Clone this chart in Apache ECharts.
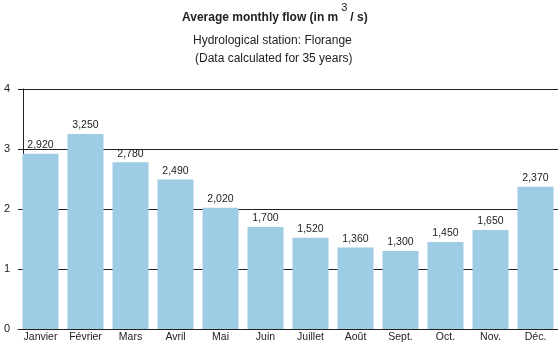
<!DOCTYPE html>
<html>
<head>
<meta charset="utf-8">
<script src="https://cdn.jsdelivr.net/npm/echarts@6/dist/echarts.min.js"></script>
<style>html,body{margin:0;padding:0;background:#fff;}#c{width:558px;height:346px;}</style>
</head>
<body>
<div id="c"></div>
<script>
const months = ['Janvier','Février','Mars','Avril','Mai','Juin','Juillet','Août','Sept.','Oct.','Nov.','Déc.'];
const flows = [2.92, 3.25, 2.78, 2.49, 2.02, 1.70, 1.52, 1.36, 1.30, 1.45, 1.65, 2.37];
const titleText = 'Average monthly flow (in m';
const subtitle1 = 'Hydrological station: Florange';
const subtitle2 = '(Data calculated for 35 years)';

const chart = echarts.init(document.getElementById('c'), null, {renderer: 'canvas'});
const font = 'Liberation Sans, Arial, sans-serif';
chart.setOption({
  animation: false,
  backgroundColor: '#fff',
  title: [
    {
      text: titleText + '{sup|3}/ s)',
      left: 177, top: -3,
      textStyle: {
        fontFamily: font, fontSize: 12, fontWeight: 'bold', color: '#222',
        rich: { sup: { fontFamily: font, fontSize: 11, fontWeight: 'normal', color: '#222', padding: [0, 3, 21, 3] } }
      }
    },
    { text: subtitle1, left: 188, top: 30, textStyle: { fontFamily: font, fontSize: 12, fontWeight: 'normal', color: '#222' } },
    { text: subtitle2, left: 190, top: 48, textStyle: { fontFamily: font, fontSize: 12, fontWeight: 'normal', color: '#222' } }
  ],
  grid: { left: 18, right: 0, top: 89, bottom: 17, containLabel: false },
  xAxis: {
    type: 'category',
    data: months,
    axisLine: { show: true, lineStyle: { color: '#222', width: 1 } },
    axisTick: { show: false },
    axisLabel: { fontFamily: font, fontSize: 10.5, color: '#222', margin: 3, interval: 0 }
  },
  yAxis: {
    type: 'value',
    min: 0, max: 4, interval: 1,
    offset: -5,
    axisLine: { show: true, lineStyle: { color: '#222', width: 1 } },
    axisTick: { show: false },
    splitLine: { show: true, lineStyle: { color: '#222', width: 1 } },
    axisLabel: { fontFamily: font, fontSize: 11, color: '#222', margin: 13 }
  },
  series: [{
    type: 'bar',
    data: flows,
    barWidth: 36,
    itemStyle: { color: '#9dcce4' },
    label: {
      show: true, position: 'top', distance: 3,
      fontFamily: font, fontSize: 10.5, color: '#222',
      formatter: p => p.value.toFixed(3).replace('.', ',')
    }
  }]
});
</script>
</body>
</html>
